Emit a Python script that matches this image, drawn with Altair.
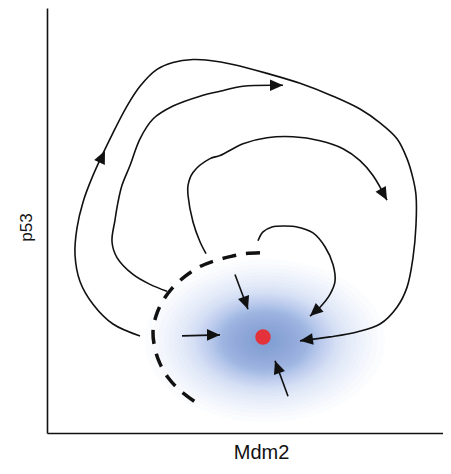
import altair as alt
import pandas as pd

# ---- data (schematic phase plane: x = Mdm2, y = p53, arbitrary units) ----
outer_x = [93, 66, 46, 33, 28, 30, 36, 46, 66, 80, 93, 110, 126, 146, 163, 186, 220, 253, 286, 313, 333, 350, 360, 366, 369, 369, 366, 360, 350, 333, 310, 283, 253]
outer_y = [98, 110, 130, 153, 180, 207, 233, 260, 303, 330, 350, 367, 374, 377, 376, 372, 363, 353, 340, 327, 313, 297, 277, 257, 240, 210, 177, 147, 127, 110, 102, 97, 93]

second_x = [120, 103, 86, 70, 65, 68, 71, 75, 83, 93, 106, 126, 153, 173, 196, 236]
second_y = [143, 150, 160, 177, 193, 215, 233, 250, 270, 297, 317, 330, 340, 345, 350, 351]

third_x = [159, 153, 146, 141, 141, 146, 163, 173, 196, 220, 246, 273, 296, 313, 326, 340]
third_y = [181, 193, 213, 240, 250, 263, 277, 280, 292, 298, 299, 295, 287, 275, 260, 235]

inner_x = [211, 216, 225, 238, 250, 266, 278, 286, 288, 283, 273, 263]
inner_y = [194, 203, 208, 209, 208, 202, 188, 170, 153, 140, 127, 118]

basin_x = [213, 198, 183, 168, 153, 138, 125, 115, 109, 106, 108, 113, 121, 133, 153]
basin_y = [182, 181, 178, 174, 168, 158, 146, 132, 118, 102, 85, 70, 56, 43, 28]

shaft_id = ["a", "a", "b", "b", "c", "c"]
shaft_x = [135, 173, 188, 201, 241, 228]
shaft_y = [98, 99, 160, 125, 37, 73]

head_x = [253, 58, 236, 340, 263, 173, 201, 228]
head_y = [93, 285, 351, 235, 118, 99, 125, 73]
head_angle = [172, 295, 0, 61, 138, 0, 70, 250]

fixed_x = [216]
fixed_y = [97]

glow_x = [218]
glow_y = [93]
# relative extents of the stacked translucent layers forming the blurred basin glow
glow_scales = [1.0, 0.94, 0.89, 0.84, 0.80, 0.76, 0.72, 0.68, 0.65, 0.62,
               0.59, 0.575, 0.56, 0.545, 0.53, 0.515, 0.50, 0.488, 0.476, 0.464,
               0.452, 0.44, 0.43, 0.42, 0.41, 0.40, 0.39, 0.38, 0.37, 0.36, 0.35,
               0.33, 0.31, 0.29, 0.27, 0.25, 0.23, 0.21, 0.19, 0.17, 0.15, 0.13,
               0.11, 0.09, 0.07, 0.05]

# ---- tables ----
rows = []
for name, xs, ys in [("outer", outer_x, outer_y), ("second", second_x, second_y),
                     ("third", third_x, third_y), ("inner", inner_x, inner_y)]:
    for i, (a, b) in enumerate(zip(xs, ys)):
        rows.append({"curve": name, "i": i, "x": a, "y": b})
df_lines = pd.DataFrame(rows)
df_basin = pd.DataFrame({"i": range(len(basin_x)), "x": basin_x, "y": basin_y})
df_shaft = pd.DataFrame({"arrow": shaft_id, "i": [0, 1] * 3, "x": shaft_x, "y": shaft_y})
df_head = pd.DataFrame({"x": head_x, "y": head_y, "angle": head_angle})
df_fixed = pd.DataFrame({"x": fixed_x, "y": fixed_y})
GLOW_RX = 120
df_glow = pd.DataFrame({"x": glow_x * len(glow_scales), "y": glow_y * len(glow_scales),
                        "s": [(2 * GLOW_RX * k) ** 2 for k in glow_scales]})

INK = "#111111"
FONT = "Liberation Sans"

x_enc = alt.X("x:Q", scale=alt.Scale(domain=[0, 396], nice=False, zero=False),
              axis=alt.Axis(title="Mdm2", labels=False, ticks=False, grid=False,
                            domainColor=INK, domainWidth=1.6, titleFont=FONT,
                            titleFontSize=20, titleFontWeight="normal", titleColor=INK,
                            titlePadding=9, titleX=214, titleAlign="center"))
y_enc = alt.Y("y:Q", scale=alt.Scale(domain=[0, 429], nice=False, zero=False),
              axis=alt.Axis(title="p53", labels=False, ticks=False, grid=False,
                            domainColor=INK, domainWidth=1.6, titleFont=FONT,
                            titleFontSize=17, titleFontWeight="normal", titleColor=INK,
                            titlePadding=12, titleY=219))

ELLIPSE = "M-1,0A1,0.68,0,1,1,1,0A1,0.68,0,1,1,-1,0Z"
ARROW = "M0,0L-1,-0.45L-1,0.45Z"

glow = alt.Chart(df_glow).mark_point(
    shape=ELLIPSE, filled=True, color="#6874c4", opacity=0.022, strokeWidth=0
).encode(x=x_enc, y=y_enc, size=alt.Size("s:Q", scale=None))

lines = alt.Chart(df_lines).mark_line(
    interpolate="catmull-rom", color=INK, strokeWidth=1.6
).encode(x=x_enc, y=y_enc, detail="curve:N", order="i:Q")

basin = alt.Chart(df_basin).mark_line(
    interpolate="catmull-rom", color=INK, strokeWidth=3.5, strokeDash=[14, 10]
).encode(x=x_enc, y=y_enc, order="i:Q")

shafts = alt.Chart(df_shaft).mark_line(color=INK, strokeWidth=1.6).encode(
    x=x_enc, y=y_enc, detail="arrow:N", order="i:Q")

heads = alt.Chart(df_head).mark_point(
    shape=ARROW, filled=True, size=676, color=INK, opacity=1, strokeWidth=0
).encode(x=x_enc, y=y_enc, angle=alt.Angle("angle:Q", scale=None))

fixed = alt.Chart(df_fixed).mark_circle(size=240, color="#e3323a", opacity=1).encode(
    x=x_enc, y=y_enc)

chart = alt.layer(glow, lines, basin, shafts, heads, fixed).properties(
    width=396, height=425,
    autosize=alt.AutoSizeParams(type="none"),
    padding={"left": 39, "top": 0, "right": 0, "bottom": 28},
).configure_view(stroke=None)

chart.save("out.html", embed_options={"renderer": "svg", "actions": False})
